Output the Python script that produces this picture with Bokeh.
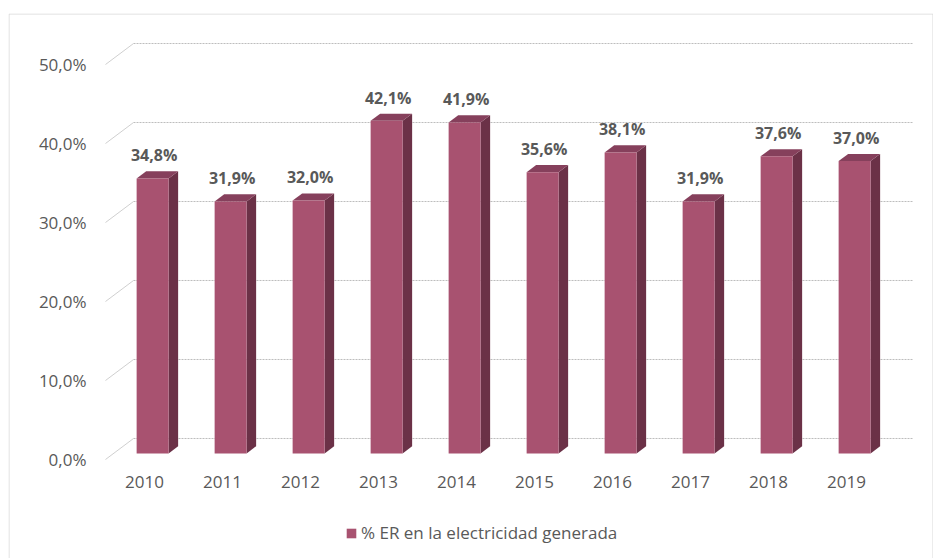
from bokeh.plotting import figure
from bokeh.models import Range1d, Legend, LegendItem
from bokeh.core.properties import value
from bokeh.embed import file_html
from bokeh.resources import INLINE

# ---- data ----
years = ["2010", "2011", "2012", "2013", "2014", "2015", "2016", "2017", "2018", "2019"]
values = [34.8, 31.9, 32.0, 42.1, 41.9, 35.6, 38.1, 31.9, 37.6, 37.0]
y_ticks = [0, 10, 20, 30, 40, 50]
y_tick_labels = ["0,0%", "10,0%", "20,0%", "30,0%", "40,0%", "50,0%"]
series_name = "% ER en la electricidad generada"

# ---- 3D projection parameters (data units) ----
PX_X = 78.0   # pixels per category
PX_Y = 7.9    # pixels per percent
DX = 28 / PX_X      # depth shift in x (categories)
DY = 21 / PX_Y      # depth shift in y (percent)
D0, D1 = 0.29, 0.63  # bar front/back depth fractions
HW = 0.205           # half width of bar front face

FRONT = "#A85270"
SIDE = "#6B3147"
TOP = "#86405C"
TXT = "#595959"
FONT = value("Open Sans")

X0, X1 = -1.74359, 10.11538
Y0, Y1 = -12.532, 56.456

xs_c = list(range(len(years)))

p = figure(width=933, height=558,
           x_range=Range1d(X0, X1), y_range=Range1d(Y0, Y1),
           output_backend="svg", toolbar_location=None,
           x_axis_location=None, y_axis_location=None,
           min_border_left=8, min_border_right=0, min_border_bottom=0, min_border_top=13)
p.grid.visible = False
p.outline_line_color = None
p.background_fill_color = "white"
p.border_fill_color = "white"

# chart-area border (top, left, right; bottom is cut off by the window)
hx, hy = 0.5 / PX_X, 0.5 / PX_Y
p.line(x=[X0 + hx, X0 + hx, X1 - hx, X1 - hx], y=[Y0, Y1 - hy, Y1 - hy, Y0],
       line_color="#d9d9d9", line_width=1)

# back wall gridlines + diagonals
xl0, xr0 = -0.5, len(years) - 0.5
p.segment(x0=[xl0 + DX] * len(y_ticks), y0=[t + DY for t in y_ticks],
          x1=[xr0 + DX] * len(y_ticks), y1=[t + DY for t in y_ticks],
          line_color="#bdbdbd", line_width=1, line_dash="2 1")
p.segment(x0=[xl0] * len(y_ticks), y0=y_ticks,
          x1=[xl0 + DX] * len(y_ticks), y1=[t + DY for t in y_ticks],
          line_color="#d0d0d0", line_width=1)

# bars
side_xs, side_ys, top_xs, top_ys = [], [], [], []
for i, v in zip(xs_c, values):
    xr = i + HW
    xl = i - HW
    side_xs.append([xr + D0 * DX, xr + D1 * DX, xr + D1 * DX, xr + D0 * DX])
    side_ys.append([D0 * DY, D1 * DY, v + D1 * DY, v + D0 * DY])
    top_xs.append([xl + D0 * DX, xr + D0 * DX, xr + D1 * DX, xl + D1 * DX])
    top_ys.append([v + D0 * DY, v + D0 * DY, v + D1 * DY, v + D1 * DY])

p.patches(side_xs, side_ys, fill_color=SIDE, line_color=None)
p.patches(top_xs, top_ys, fill_color=TOP, line_color=None)
front = p.quad(left=[i - HW + D0 * DX for i in xs_c], right=[i + HW + D0 * DX for i in xs_c],
               bottom=[D0 * DY] * len(values), top=[v + D0 * DY for v in values],
               fill_color=FRONT, line_color=None)

# data labels
lab = [f"{v:.1f}".replace(".", ",") + "%" for v in values]
p.text(x=[i + D0 * DX + 0.02 for i in xs_c], y=[v + D1 * DY for v in values], text=lab,
       text_font=FONT, text_font_size="16px", text_font_style="bold", text_color=TXT,
       text_align="center", text_baseline="bottom", y_offset=-5)

# y tick labels
p.text(x=[xl0] * len(y_ticks), y=y_ticks, text=y_tick_labels,
       text_font=FONT, text_font_size="17px", text_color=TXT,
       text_align="right", text_baseline="middle", x_offset=-19)

# x tick labels
p.text(x=xs_c, y=[0] * len(years), text=years,
       text_font=FONT, text_font_size="17px", text_color=TXT,
       text_align="center", text_baseline="middle", y_offset=23)

legend = Legend(items=[LegendItem(label=series_name, renderers=[front])],
                location=(337, 14), orientation="horizontal",
                glyph_width=12, glyph_height=12, padding=0, margin=0, spacing=0,
                label_standoff=4, border_line_color=None, background_fill_alpha=0,
                label_text_font="Open Sans", label_text_font_size="17px",
                label_text_color=TXT)
p.add_layout(legend)

open("out.html", "w").write(file_html(p, INLINE))
